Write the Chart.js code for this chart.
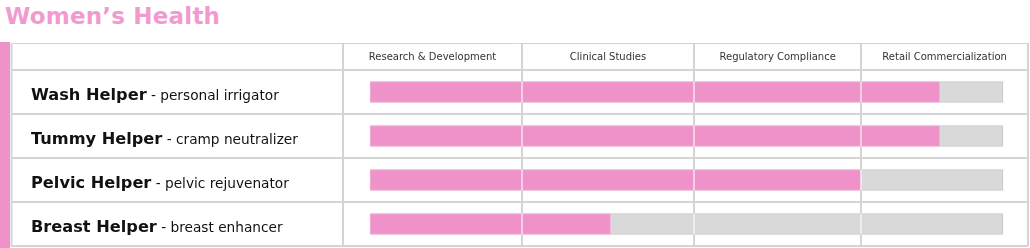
<!DOCTYPE html>
<html>
<head>
<meta charset="utf-8">
<script src="https://cdn.jsdelivr.net/npm/chart.js@4/dist/chart.umd.min.js"></script>
<style>
  body { margin: 0; background: #fff; }
  #wrap { position: relative; width: 1030px; height: 248px; overflow: hidden; }
  #title {
    position: absolute; left: 5px; top: 1px;
    font: bold 23px/30px "DejaVu Sans", sans-serif;
    color: #f29acf; white-space: nowrap; letter-spacing: 0.2px;
  }
  canvas { position: absolute; left: 0; top: 0; }
</style>
</head>
<body>
<div id="wrap">
  <div id="title">Women’s Health</div>
  <canvas id="pipeline" width="1030" height="248"></canvas>
</div>
<script>
// products (rows) and what they are
const products    = ['Wash Helper', 'Tummy Helper', 'Pelvic Helper', 'Breast Helper'];
const descriptors = ['personal irrigator', 'cramp neutralizer', 'pelvic rejuvenator', 'breast enhancer'];

// progress along the pipeline, % of the full track
const progress = [90, 90, 77.6, 38];
const track    = [100, 100, 100, 100];

// stage headers and where each stage column starts/ends on the x scale
const stages     = ['Research & Development', 'Clinical Studies', 'Regulatory Compliance', 'Retail Commercialization'];
const stageEdges = [-4.27, 24, 51.2, 77.6, 103.95];

const PINK = '#ef92ca';
const LINE = '#d4d4d4';
const FONT = '"DejaVu Sans", sans-serif';

const tablePlugin = {
    id: 'pipelineTable',
    beforeDatasetsDraw(chart) {
        const { ctx, chartArea: a, scales: { x, y } } = chart;
        const left = 11, headTop = 43;
        const rowH = (a.bottom - a.top) / products.length;

        ctx.save();
        // left accent strip
        ctx.fillStyle = PINK;
        ctx.fillRect(0, headTop - 1, left - 1, chart.height);

        ctx.strokeStyle = LINE;
        // horizontal rules
        ctx.lineWidth = 1;
        ctx.beginPath();
        ctx.moveTo(left, headTop + 0.5);
        ctx.lineTo(a.right, headTop + 0.5);
        ctx.stroke();
        ctx.lineWidth = 2;
        for (let i = 0; i <= products.length; i++) {
            const yy = Math.round(a.top + i * rowH);
            ctx.beginPath();
            ctx.moveTo(left, yy);
            ctx.lineTo(a.right, yy);
            ctx.stroke();
        }
        // vertical rules
        ctx.beginPath();
        ctx.moveTo(left + 0.5, headTop);
        ctx.lineTo(left + 0.5, a.bottom);
        ctx.stroke();
        stageEdges.forEach((v) => {
            const xx = Math.round(x.getPixelForValue(v));
            ctx.beginPath();
            ctx.moveTo(xx, headTop);
            ctx.lineTo(xx, a.bottom);
            ctx.stroke();
        });

        // stage headers
        ctx.fillStyle = '#333';
        ctx.font = '10px ' + FONT;
        ctx.textAlign = 'center';
        ctx.textBaseline = 'middle';
        const headMid = (headTop + a.top) / 2 + 1;
        stages.forEach((s, i) => {
            const x0 = x.getPixelForValue(stageEdges[i]);
            const x1 = x.getPixelForValue(stageEdges[i + 1]);
            ctx.fillText(s, (x0 + x1) / 2, headMid);
        });

        // product labels
        ctx.textAlign = 'left';
        ctx.textBaseline = 'alphabetic';
        products.forEach((p, i) => {
            const base = y.getPixelForValue(i) + 8;
            ctx.fillStyle = '#111';
            ctx.font = 'bold 16.2px ' + FONT;
            ctx.fillText(p, 31, base);
            const w = ctx.measureText(p).width;
            ctx.font = '13.7px ' + FONT;
            ctx.fillText(' - ' + descriptors[i], 31 + w, base);
        });
        ctx.restore();
    },
    afterDatasetsDraw(chart) {
        // column rules show faintly through the bars
        const { ctx, scales: { x } } = chart;
        const bars = chart.getDatasetMeta(1).data;
        ctx.save();
        ctx.strokeStyle = 'rgba(255,255,255,0.55)';
        ctx.lineWidth = 2;
        bars.forEach((bar) => {
            const top = bar.y - bar.height / 2;
            stageEdges.slice(1, -1).forEach((v) => {
                const xx = Math.round(x.getPixelForValue(v));
                ctx.beginPath();
                ctx.moveTo(xx, top);
                ctx.lineTo(xx, top + bar.height);
                ctx.stroke();
            });
        });
        ctx.restore();
    },
};

new Chart(document.getElementById('pipeline'), {
    type: 'bar',
    data: {
        labels: products,
        datasets: [
            {
                label: 'Progress',
                data: progress,
                backgroundColor: PINK,
                borderColor: '#f5b4da',
                borderWidth: 1,
                borderSkipped: false,
                grouped: false,
                barThickness: 21,
            },
            {
                label: 'Track',
                data: track,
                backgroundColor: '#d9d9d9',
                borderColor: '#c6c6c6',
                borderWidth: 1,
                borderSkipped: false,
                grouped: false,
                barThickness: 21,
            },
        ],
    },
    options: {
        indexAxis: 'y',
        responsive: false,
        animation: false,
        layout: { padding: { left: 343, right: 2, top: 70, bottom: 2 } },
        scales: {
            x: { display: false, min: stageEdges[0], max: stageEdges[stageEdges.length - 1] },
            y: { display: false },
        },
        plugins: { legend: { display: false }, tooltip: { enabled: false } },
    },
    plugins: [tablePlugin],
});
</script>
</body>
</html>
